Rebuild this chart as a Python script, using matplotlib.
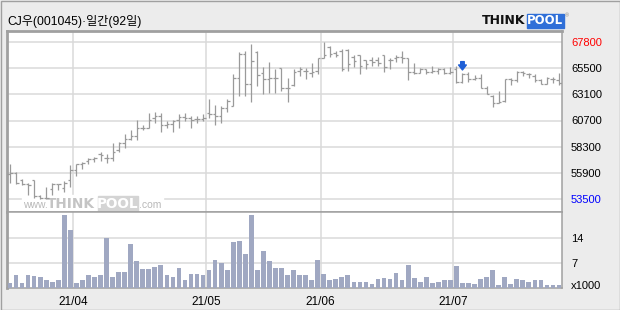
import numpy as np
import matplotlib.pyplot as plt
from matplotlib.patches import Rectangle

plt.rcParams['font.family'] = ['Liberation Sans', 'Noto Sans CJK KR', 'DejaVu Sans']

title = "CJ우(001045)·일간(92일)"

# daily OHLC, 2021-03-17 .. 2021-07-26 (92 trading days)
opens = [55800, 55900, 55200, 54900, 55200, 53800, 53600, 54400, 54900, 54500,
         55200, 56100, 56700, 57000, 57100, 57600, 57200, 57200, 58000, 58600,
         59000, 59200, 60000, 60000, 60900, 61100, 60200, 60300, 60700, 61000,
         60900, 60800, 60800, 61300, 61200, 61100, 61800, 62000, 64500, 66700,
         64000, 66900, 65000, 64400, 64500, 65400, 63600, 63900, 65200, 65200,
         65000, 65200, 66300, 67300, 66800, 67000, 67100, 66400, 66600, 66200,
         66200, 66200, 66600, 66200, 66300, 66400, 66300, 65100, 65000, 65300,
         65100, 65200, 65300, 65000, 65300, 64200, 64900, 64400, 64500, 63600,
         62900, 62200, 62400, 64400, 64300, 65100, 64900, 64700, 64300, 64000,
         64400, 64300]
highs = [56700, 56000, 55300, 55000, 55200, 53900, 54600, 55000, 54900, 55100,
         56600, 56700, 56900, 57200, 57300, 57800, 57600, 58600, 58700, 59400,
         59800, 60700, 60200, 61300, 61400, 61300, 60600, 60700, 61200, 61300,
         61100, 61100, 61200, 62600, 62100, 62000, 62600, 64900, 66900, 67000,
         67600, 67000, 65500, 66000, 65300, 65400, 64500, 65300, 65500, 65400,
         65900, 66300, 67800, 67400, 67000, 67200, 67200, 66600, 66600, 66200,
         66400, 66400, 66600, 66300, 66600, 67000, 66300, 65900, 65400, 65300,
         65600, 65400, 65400, 65500, 65600, 65000, 65100, 64800, 64900, 63800,
         63000, 63300, 64400, 64500, 65200, 65200, 65000, 64900, 64400, 64600,
         64600, 65000]
lows = [55000, 54900, 54800, 53900, 53600, 53500, 53500, 53900, 54300, 54100,
        54600, 55600, 56200, 56700, 56900, 57000, 56800, 57000, 57800, 58100,
        58900, 58900, 59800, 60000, 60400, 59600, 60000, 59600, 60000, 60600,
        60000, 60400, 60600, 60900, 60200, 60400, 61400, 62000, 62900, 62900,
        62300, 63800, 63100, 63200, 63200, 63300, 62300, 63800, 64700, 64400,
        64600, 64900, 66300, 66400, 66400, 65200, 65200, 65500, 64900, 65300,
        65600, 65600, 65100, 65300, 66000, 65900, 64300, 64900, 65000, 64900,
        65000, 64900, 64900, 64900, 64100, 64100, 64200, 64300, 63600, 63100,
        61900, 62200, 62300, 63900, 64200, 64700, 64500, 64200, 64000, 64000,
        64100, 63900]
closes = [55900, 55000, 54900, 54800, 53800, 53600, 53600, 54900, 54900, 55000,
          56100, 56700, 56800, 57100, 57200, 57500, 57200, 57800, 58600, 59000,
          59200, 60000, 60000, 60700, 61100, 60200, 60300, 60600, 61000, 60900,
          60700, 60800, 60900, 61200, 61100, 61800, 62400, 64500, 66700, 64000,
          66100, 64800, 64400, 64500, 64500, 63600, 63600, 65100, 65300, 65200,
          65100, 66300, 66600, 66700, 66600, 65300, 65800, 66100, 65600, 65800,
          66000, 65900, 65500, 66200, 66400, 66300, 65100, 65000, 65300, 65100,
          65200, 65300, 65000, 65100, 64200, 64900, 64400, 64500, 63600, 63100,
          62200, 62300, 64400, 64300, 65100, 65000, 64900, 64300, 64000, 64500,
          64400, 64100]
# volume in thousands of shares
volume = [1.5, 3.5, 1.5, 3.5, 3.3, 3.0, 2.1, 1.8, 2.1, 20.3,
          16.3, 1.5, 2.1, 3.5, 3.0, 3.5, 13.9, 3.0, 4.6, 4.6,
          12.4, 7.4, 5.2, 5.2, 5.8, 6.3, 3.5, 3.2, 5.5, 2.1,
          4.0, 4.0, 3.5, 4.9, 7.7, 7.1, 4.9, 12.7, 13.0, 9.6,
          20.5, 4.9, 10.2, 7.4, 5.5, 5.5, 3.7, 4.9, 3.5, 3.7,
          2.3, 7.7, 4.0, 2.3, 2.6, 3.2, 3.5, 1.6, 1.8, 1.8,
          1.2, 2.6, 2.9, 2.6, 4.3, 2.1, 6.3, 2.9, 1.8, 3.2,
          1.5, 1.8, 2.3, 2.1, 6.0, 1.5, 1.5, 1.2, 2.6, 3.2,
          5.1, 0.9, 3.2, 1.2, 2.6, 2.1, 1.8, 2.3, 2.1, 0.9,
          0.9, 0.9]

month_start = [11, 33, 52, 74]   # first bar of each month
month_labels = ["21/04", "21/05", "21/06", "21/07"]
price_labels = ["53500", "55900", "58300", "60700", "63100", "65500", "67800"]
price_label_colors = ['#0000ff', 'k', 'k', 'k', 'k', 'k', '#ff0000']
vol_ticks = [7, 14]
arrow_bar = 75

W, H = 620, 310
BG = '#ececec'
GRID = '#dadada'
EDGE = '#a0a0a0'


def fx(px):
    return px / W


def fy(py):
    return 1 - py / H


fig = plt.figure(figsize=(6.2, 3.1), dpi=100, facecolor=BG)
ax = fig.add_axes([fx(7), fy(212), fx(555), 181 / H])
axv = fig.add_axes([fx(7), fy(288), fx(555), 76 / H], sharex=ax)

x = np.arange(len(closes))

##########################################
# Price panel
##########################################
pmin, pmax = min(lows), max(highs)
ppx = (pmax - pmin) / 157.0
ax.set_ylim(pmin - 13 * ppx, pmax + 11 * ppx)
ax.set_xlim(-0.5, len(closes) - 0.5)
ax.set_facecolor('white')

bar_col = '#9a9a9a'
ax.vlines(x, lows, highs, color=bar_col, lw=0.9, zorder=3)
ax.hlines(opens, x - 0.42, x, color=bar_col, lw=0.9, zorder=3)
ax.hlines(closes, x, x + 0.42, color=bar_col, lw=0.9, zorder=3)

ax.annotate('', xy=(arrow_bar, highs[arrow_bar]), xytext=(0, 8), textcoords='offset points',
            arrowprops=dict(arrowstyle='simple,head_width=0.7,head_length=0.45,tail_width=0.32',
                            color='#1f5fd6', shrinkA=0, shrinkB=2, mutation_scale=8),
            zorder=5)

ax.yaxis.tick_right()
ax.set_yticks(np.linspace(pmin, pmax, 7), price_labels)
for lbl, c in zip(ax.get_yticklabels(), price_label_colors):
    lbl.set_color(c)
ax.tick_params(axis='y', length=0, pad=6.5, labelsize=8)
ax.tick_params(axis='x', length=0, labelbottom=False)
ax.set_xticks(np.array(month_start) - 0.5)
ax.grid(True, color=GRID, lw=1.1, zorder=0)
ax.set_axisbelow(True)

# watermark sits under the bars
tf = fig.transFigure
ax.add_patch(Rectangle((fx(22), fy(211.5)), fx(141), 16.5 / H, transform=tf,
                       color='white', zorder=2))
ax.text(fx(23), fy(205), 'www.', fontsize=7.5, va='center', ha='left', color='#b8b8b8',
        transform=tf, zorder=2.5)
ax.text(fx(47), fy(204), 'THINK', fontsize=9.8, fontweight='bold', va='center', ha='left',
        family='DejaVu Sans', color='#c4c4c4', transform=tf, zorder=2.5)
ax.add_patch(Rectangle((fx(98), fy(211)), fx(40), 15 / H, transform=tf,
                       color='#d4d4d4', zorder=2.4))
ax.text(fx(118), fy(204), 'POOL', fontsize=9.8, fontweight='bold', va='center', ha='center',
        family='DejaVu Sans', color='white', transform=tf, zorder=2.5)
ax.text(fx(139), fy(205), '.com', fontsize=7.5, va='center', ha='left', color='#b8b8b8',
        transform=tf, zorder=2.5)

##########################################
# Volume panel
##########################################
axv.bar(x, volume, width=0.78, color='#a0a8c2', zorder=3)
axv.set_ylim(0, 21.2)
axv.set_facecolor('white')
axv.yaxis.tick_right()
axv.set_yticks(vol_ticks, [str(v) for v in vol_ticks])
axv.set_xticks(np.array(month_start) - 0.5, month_labels)
axv.tick_params(axis='y', length=0, pad=6.5, labelsize=8)
axv.tick_params(axis='x', length=0, pad=6, labelsize=8.5)
axv.grid(True, color=GRID, lw=1.1, zorder=0)
axv.set_axisbelow(True)
fig.text(fx(571), fy(286), 'x1000', fontsize=8, va='center')

for a in (ax, axv):
    for s in a.spines.values():
        s.set_color(EDGE)
        s.set_linewidth(1.1)
ax.spines['top'].set_linewidth(2)
ax.spines['left'].set_linewidth(2)
axv.spines['left'].set_linewidth(2)

##########################################
# Title, logo, frame
##########################################
fig.text(fx(7), fy(22), title, fontsize=8.7, va='center', ha='left')

fig.text(fx(481.5), fy(21), 'THINK', fontsize=9, fontweight='bold', va='center',
         ha='left', family='DejaVu Sans', color='#111111')
fig.add_artist(Rectangle((fx(526.5), fy(28)), fx(37.5), 14 / H, transform=tf,
                         color='#2f6fd8', zorder=2))
fig.text(fx(545.3), fy(21), 'POOL', fontsize=8.5, fontweight='bold', va='center', ha='center',
         family='DejaVu Sans', color='white', zorder=3)
fig.text(fx(565), fy(16), '®', fontsize=4, va='center', ha='left', color='#888888')

fig.add_artist(Rectangle((fx(0.5), fy(309.5)), fx(619), 309 / H, transform=tf,
                         fill=False, ec=EDGE, lw=1))

fig.savefig('out.png', dpi=100, facecolor=BG)
